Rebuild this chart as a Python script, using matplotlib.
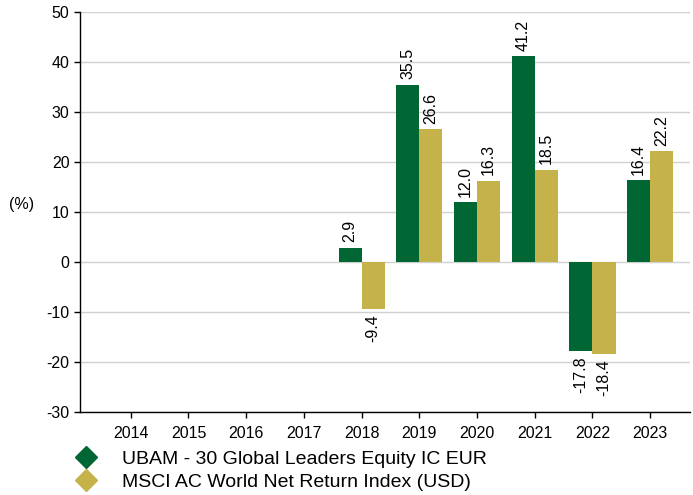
import numpy as np
import matplotlib.pyplot as plt
from matplotlib.lines import Line2D

plt.rcParams['font.family'] = ['Liberation Sans', 'DejaVu Sans']
plt.rcParams['axes.unicode_minus'] = False

## dados
anos = ['2014', '2015', '2016', '2017', '2018', '2019', '2020', '2021', '2022', '2023']
fundo = [np.nan, np.nan, np.nan, np.nan, 2.9, 35.5, 12.0, 41.2, -17.8, 16.4]
indice = [np.nan, np.nan, np.nan, np.nan, -9.4, 26.6, 16.3, 18.5, -18.4, 22.2]
nomes = ['UBAM - 30 Global Leaders Equity IC EUR', 'MSCI AC World Net Return Index (USD)']

verde = '#006633'
dourado = '#C6B24A'

fig = plt.figure(figsize=(6.93, 4.95), dpi=100)
ax = fig.add_axes([0.1154, 0.1677, 0.8803, 0.8075])

x = np.arange(len(anos))
w = 0.4
b1 = ax.bar(x - w / 2, fundo, w, color=verde, zorder=3)
b2 = ax.bar(x + w / 2, indice, w, color=dourado, zorder=3)

## rótulos das barras
for barras, vals in [(b1, fundo), (b2, indice)]:
    for r, v in zip(barras, vals):
        if np.isnan(v):
            continue
        cx = r.get_x() + r.get_width() / 2
        if v >= 0:
            ax.annotate(f'{v:.1f}', (cx, v), xytext=(0, 4), textcoords='offset points',
                        rotation=90, ha='center', va='bottom', fontsize=11.5)
        else:
            ax.annotate(f'{v:.1f}', (cx, v), xytext=(0, -4), textcoords='offset points',
                        rotation=90, ha='center', va='top', fontsize=11.5)

ax.set_ylim(-30, 50)
ax.set_yticks(np.arange(-30, 51, 10))
ax.set_xlim(-0.88, 9.69)
ax.set_xticks(x)
ax.set_xticklabels(anos)
ax.tick_params(axis='both', labelsize=11.5, direction='out', length=4, width=1, color='black')
ax.tick_params(axis='x', pad=6)
ax.grid(axis='y', color='#d0d0d0', linewidth=1, zorder=0)
ax.set_axisbelow(True)
for s in ['top', 'right']:
    ax.spines[s].set_visible(False)
ax.spines['left'].set_linewidth(1)
ax.spines['bottom'].set_linewidth(1)

fig.text(22 / 693, 1 - 205 / 495, '(%)', fontsize=11.5, ha='center', va='center')

## legenda
handles = [Line2D([], [], marker='D', linestyle='none', markersize=11, color=verde),
           Line2D([], [], marker='D', linestyle='none', markersize=11, color=dourado)]
fig.legend(handles, nomes, loc='upper left', bbox_to_anchor=(0.110, 0.0909), frameon=False,
           fontsize=14, handlelength=1.0, handletextpad=1.34, labelspacing=0.3,
           borderpad=0, borderaxespad=0)

fig.savefig('out.png', dpi=100)
